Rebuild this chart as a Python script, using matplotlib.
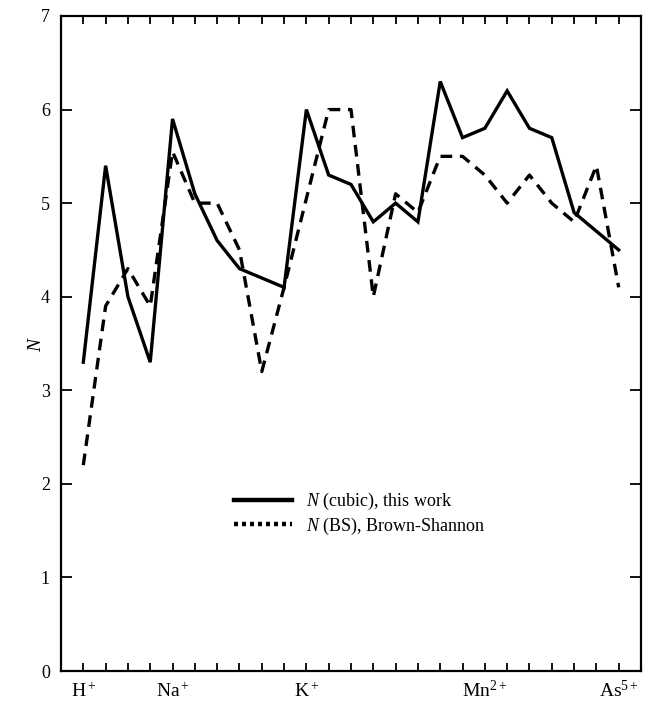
import matplotlib
matplotlib.use("Agg")
import matplotlib.pyplot as plt
from matplotlib.lines import Line2D

plt.rcParams['font.family'] = ['Liberation Serif', 'DejaVu Serif']
plt.rcParams['mathtext.fontset'] = 'custom'
plt.rcParams['mathtext.rm'] = 'Liberation Serif'
plt.rcParams['mathtext.it'] = 'Liberation Serif:italic'

ions = list(range(25))
n_cubic = [3.3, 5.4, 4.0, 3.3, 5.9, 5.1, 4.6, 4.3, 4.2, 4.1, 6.0, 5.3, 5.2,
           4.8, 5.0, 4.8, 6.3, 5.7, 5.8, 6.2, 5.8, 5.7, 4.9, 4.7, 4.5]
n_bs = [2.2, 3.9, 4.3, 3.9, 5.55, 5.0, 5.0, 4.5, 3.2, 4.1, 5.05, 6.0, 6.0,
        4.0, 5.1, 4.9, 5.5, 5.5, 5.3, 5.0, 5.3, 5.0, 4.8, 5.4, 4.1]
label_pos = [0, 4, 10, 18, 24]
label_txt = ['H$^+$', 'Na$^+$', 'K$^+$', 'Mn$^{2+}$', 'As$^{5+}$']

fig = plt.figure(figsize=(6.48, 7.01), dpi=100)
ax = fig.add_axes([61/648, 30/701, 580/648, 655/701])

ax.plot(ions, n_cubic, color='black', lw=2.4, solid_joinstyle='miter')
ax.plot(ions, n_bs, color='black', lw=2.4, linestyle=(0, (3.5, 2.3)))

ax.set_xlim(-1, 25)
ax.set_ylim(0, 7)
ax.set_xticks(ions)
ax.set_xticklabels([''] * 25)
for p, t in zip(label_pos, label_txt):
    ax.text(p, -0.28, t, ha='center', va='baseline', fontsize=14,
            transform=ax.transData, clip_on=False)
ax.set_yticks(range(8))
ax.tick_params(axis='both', direction='in', top=True, right=True,
               labelsize=13, width=1.3)
ax.tick_params(axis='x', length=6, pad=8)
ax.tick_params(axis='y', length=8, pad=8)
for s in ax.spines.values():
    s.set_linewidth(1.6)
ax.set_ylabel('$N$', fontsize=14, labelpad=-3)

handles = [Line2D([], [], color='black', lw=3.2),
           Line2D([], [], color='black', lw=3.2, linestyle=(0, (0.9, 0.9)))]
ax.legend(handles, ['$N$ (cubic), this work', '$N$ (BS), Brown-Shannon'],
          loc='center left', bbox_to_anchor=(0.27, 0.24), frameon=False,
          fontsize=13, handlelength=3.2, handletextpad=0.8, labelspacing=0.2)

fig.savefig('out.png', dpi=100)
